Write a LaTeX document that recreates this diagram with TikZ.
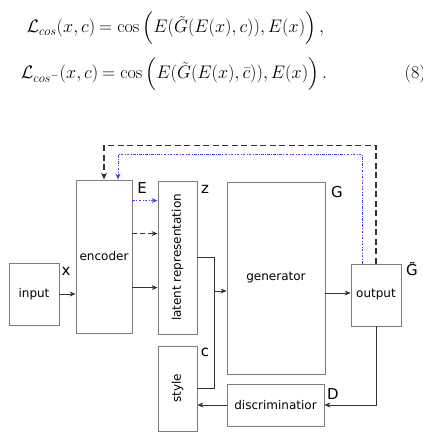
\documentclass[tikz,border=0pt]{standalone}
\usepackage{amsmath}
\usepackage{fontspec}
\setsansfont{DejaVu Sans}
\usetikzlibrary{arrows.meta,calc}
\definecolor{boxgray}{RGB}{125,125,125}
\definecolor{fbblue}{RGB}{70,70,235}
\newcommand{\eqbox}[1]{\scalebox{1.05}{$#1$}}
\tikzset{
  box/.style={draw=boxgray,line width=0.8pt,inner sep=0pt,font=\sffamily\fontsize{12}{14}\selectfont},
  boxtxt/.style={inner sep=0pt,font=\sffamily\fontsize{12}{14}\selectfont,rotate=90},
  eq/.style={inner sep=0pt,font=\fontsize{17.28}{21}\selectfont},
  lbl/.style={inner sep=0pt,font=\sffamily\fontsize{15}{17}\selectfont},
  arr/.style={draw=black!80,line width=0.6pt,-{Stealth[length=6pt,width=5pt]}},
  fb/.style={draw=black!80,line width=1.4pt,dash pattern=on 6pt off 3.5pt,-{Stealth[length=7pt,width=6pt]}},
  fbb/.style={draw=fbblue,line width=0.7pt,dash pattern=on 2.5pt off 1.5pt on 0.6pt off 1.5pt,-{Stealth[length=6pt,width=5pt]}}
}
\begin{document}
\begin{tikzpicture}[x=1pt,y=1pt]
\useasboundingbox (0,0) rectangle (423,437);
% loss terms
\node[eq,anchor=base east] (lcos) at (95.5,404) {\eqbox{\mathcal{L}_{cos}(x,c)}};
\node[eq,anchor=base west] (rcos) at (99,404) {\eqbox{=\cos\Big(E(\tilde{G}(E(x),c)),E(x)\Big)\,,}};
\node[eq,anchor=base east] (lneg) at (98.5,358) {\eqbox{\mathcal{L}_{cos^-}(x,c)}};
\node[eq,anchor=base west] (rneg) at (102,358) {\eqbox{=\cos\Big(E(\tilde{G}(E(x),\bar{c})),E(x)\Big)\,.}};
\node[eq,anchor=base west] (eqno) at (404.5,358) {\eqbox{(8)}};
% blocks
\node[box,minimum width=50,minimum height=62] (input) at (34,143) {input};
\node[box,minimum width=56,minimum height=153] (encoder) at (104,180.5) {encoder};
\node[box,minimum width=39,minimum height=153] (latent) at (177.5,179.5) {};
\node[boxtxt] (latenttxt) at (latent) {latent representation};
\node[box,minimum width=39,minimum height=85] (style) at (177.5,48.5) {};
\node[boxtxt] (styletxt) at (style) {style};
\node[box,minimum width=98,minimum height=192] (generator) at (276,159) {generator};
\node[box,minimum width=50,minimum height=62] (output) at (376,142) {output};
\node[box,minimum width=97,minimum height=42] (discr) at (275.5,32) {discriminatior};
% labels
\node[lbl] (lx) at (66,166) {x};
\node[lbl] (lE) at (142,249) {E};
\node[lbl] (lz) at (205,248) {z};
\node[lbl] (lG) at (337,245) {G};
\node[lbl] (lGt) at (412,168) {G̃};
\node[lbl] (lc) at (205,85) {c};
\node[lbl] (lD) at (333,43) {D};
% forward connections
\draw[arr] (input) -- (input -| encoder.west);
\draw[fbb] ($(encoder.north east)+(0,-21)$) -- ($(latent.north west)+(0,-20)$);
\draw[fbb,draw=black!80,line width=0.8pt,dash pattern=on 5pt off 3pt] ($(encoder.north east)+(0,-54)$) -- ($(latent.north west)+(0,-53)$);
\draw[arr] ($(encoder.north east)+(0,-108)$) -- ($(latent.north west)+(0,-107)$);
\coordinate (join) at (214,146);
\draw[draw=black!80,line width=0.6pt] (latent.east) -| (join);
\draw[draw=black!80,line width=0.6pt] (style.east) -| (join);
\draw[arr] (join) -- (join -| generator.west);
\draw[arr] (generator.east |- 0,144) -- (output.west |- 0,144);
\draw[arr] (output.south) |- (discr.east);
\draw[arr] (discr.west) -- (discr.west -| style.east);
% feedback to the encoder
\draw[fb] (output.north) -- ++(0,118) -| (encoder.north);
\draw[fbb] ([xshift=-14pt]output.north) -- ++(0,109) -| ([xshift=14pt]encoder.north);
\end{tikzpicture}
\end{document}
